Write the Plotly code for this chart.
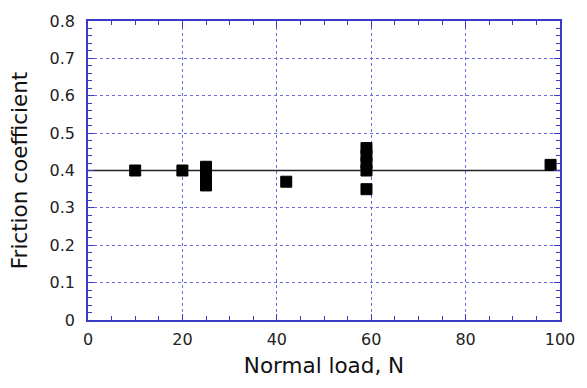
import plotly.graph_objects as go

load_n = [10, 20, 25, 25, 25, 25, 42, 59, 59, 59, 59, 59, 98]
friction = [0.40, 0.40, 0.41, 0.39, 0.37, 0.36, 0.37, 0.46, 0.44, 0.42, 0.40, 0.35, 0.415]
fit_x = [0, 100]
fit_y = [0.40, 0.40]

axis_col = "#3a3ac8"
grid_col = "#6b6be0"

fig = go.Figure()
fig.add_trace(go.Scatter(x=fit_x, y=fit_y, mode="lines",
                         line=dict(color="#222222", width=1.3), showlegend=False))
fig.add_trace(go.Scatter(x=load_n, y=friction, mode="markers",
                         marker=dict(symbol="square", size=11, color="black",
                                     line=dict(width=1, color="black")), showlegend=False))

font = dict(family="DejaVu Sans", size=16, color="#222222")
title_font = dict(family="DejaVu Sans", size=21.5, color="#111111")
fig.update_layout(
    width=587, height=388,
    margin=dict(l=88, r=20, t=18, b=68),
    paper_bgcolor="white", plot_bgcolor="white",
    font=font,
    xaxis=dict(range=[0, 100], dtick=20, tick0=0, showline=True, linecolor=axis_col,
               linewidth=1.5, mirror="ticks", ticks="inside", ticklen=6, tickcolor=axis_col,
               minor=dict(dtick=5, ticks="inside", ticklen=4, tickcolor=axis_col, showgrid=False),
               showgrid=True, gridcolor=grid_col, griddash="dot", gridwidth=1,
               zeroline=False, ticklabelstandoff=4,
               title=dict(text="Normal load, N", font=title_font, standoff=10)),
    yaxis=dict(range=[0, 0.8], dtick=0.1, tick0=0, showline=True, linecolor=axis_col,
               linewidth=1.5, mirror="ticks", ticks="inside", ticklen=6, tickcolor=axis_col,
               minor=dict(dtick=0.02, ticks="inside", ticklen=4, tickcolor=axis_col, showgrid=False),
               showgrid=True, gridcolor=grid_col, griddash="dot", gridwidth=1,
               zeroline=False, tickformat="~g", ticklabelstandoff=8,
               title=dict(text="Friction coefficient", font=title_font, standoff=16)),
)
fig.write_html("out.html")
